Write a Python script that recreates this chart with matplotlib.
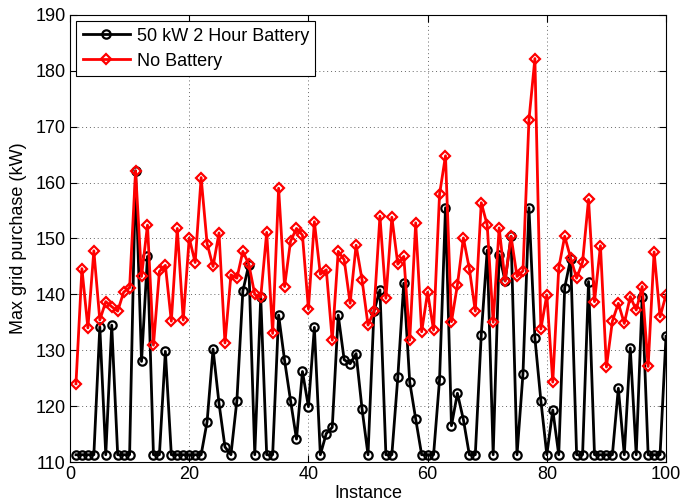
import numpy as np
import matplotlib
matplotlib.use('Agg')
import matplotlib.pyplot as plt

plt.rcParams['font.family'] = ['Liberation Sans', 'DejaVu Sans']

instance = np.arange(1, 101)

# 50 kW 2 Hour Battery
battery = [111.3, 111.3, 111.3, 111.3, 134.2, 111.3, 134.5, 111.3, 111.3, 111.3,
           162.1, 128.0, 146.8, 111.3, 111.3, 129.8, 111.3, 111.3, 111.3, 111.3,
           111.3, 111.3, 117.2, 130.2, 120.5, 112.7, 111.3, 121.0, 140.6, 145.3,
           111.3, 139.5, 111.3, 111.3, 136.3, 128.2, 121.0, 114.1, 126.2, 119.9,
           134.1, 111.3, 115.1, 116.2, 136.3, 128.3, 127.6, 129.4, 119.5, 111.3,
           137.0, 140.8, 111.3, 111.3, 125.2, 142.0, 124.3, 117.7, 111.3, 111.3,
           111.3, 124.7, 155.5, 116.5, 122.3, 117.6, 111.3, 111.3, 132.8, 147.9,
           111.3, 147.1, 142.4, 150.4, 111.3, 125.8, 155.5, 132.2, 121.0, 111.3,
           119.3, 111.3, 141.2, 146.4, 111.3, 111.3, 142.3, 111.3, 111.3, 111.3,
           111.3, 123.2, 111.3, 130.4, 111.3, 139.6, 111.3, 111.3, 111.3, 132.5]

# No Battery
no_battery = [124.0, 144.6, 134.0, 147.8, 135.4, 138.7, 137.8, 137.0, 140.4, 141.2,
              162.1, 143.2, 152.4, 130.9, 144.1, 145.2, 135.2, 151.8, 135.4, 150.1,
              145.7, 160.9, 149.1, 145.0, 151.0, 131.3, 143.5, 142.9, 147.7, 145.4,
              140.0, 139.5, 151.1, 133.0, 159.0, 141.4, 149.5, 151.8, 150.6, 137.4,
              153.0, 143.6, 144.4, 131.8, 147.7, 146.2, 138.4, 148.8, 142.6, 134.5,
              137.0, 154.0, 139.3, 153.8, 145.4, 146.8, 131.8, 152.8, 133.3, 140.4,
              133.6, 157.9, 164.8, 135.1, 141.7, 150.1, 144.6, 137.0, 156.4, 152.4,
              135.0, 151.9, 142.4, 150.4, 143.2, 144.2, 171.2, 182.2, 133.8, 139.9,
              124.3, 144.7, 150.4, 146.5, 142.9, 145.8, 157.0, 138.7, 148.7, 127.0,
              135.2, 138.4, 134.8, 139.6, 137.2, 141.4, 127.1, 147.6, 136.0, 139.9]

fig = plt.figure(figsize=(6.81, 5.04), dpi=100)
ax = fig.add_axes([0.1028, 0.0833, 0.8752, 0.887])

ax.plot(instance, battery, color='black', lw=2, marker='o', ms=6,
        mfc='none', mew=1.6, label='50 kW 2 Hour Battery')
ax.plot(instance, no_battery, color='red', lw=2, marker='D', ms=5.5,
        mfc='none', mew=1.6, label='No Battery')

ax.set_xlim(0, 100)
ax.set_ylim(110, 190)
ax.set_xticks(np.arange(0, 101, 20))
ax.set_yticks(np.arange(110, 191, 10))
ax.tick_params(direction='in', top=True, right=True, labelsize=13, length=5, pad=3)
ax.grid(True, linestyle=(0, (1, 3)), color='#666666', lw=0.7)
ax.set_xlabel('Instance', fontsize=13, labelpad=1)
ax.set_ylabel('Max grid purchase (kW)', fontsize=13, labelpad=6)

leg = ax.legend(loc='upper left', fontsize=13, fancybox=False, framealpha=1,
                edgecolor='black', handlelength=2.6, borderpad=0.35,
                labelspacing=0.45, handletextpad=0.4, borderaxespad=0.35)
leg.get_frame().set_linewidth(0.8)

fig.savefig('out.png', dpi=100)
